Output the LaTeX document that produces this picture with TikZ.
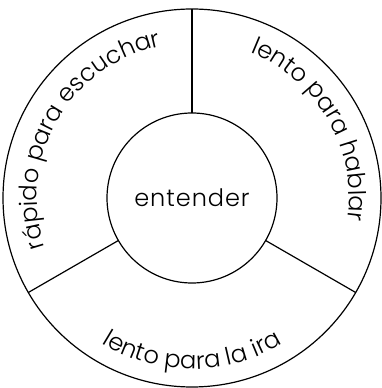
\documentclass[tikz,border=0pt]{standalone}
\usepackage{fontspec}
\setmainfont{Poppins}[UprightFont=* Light]
\usetikzlibrary{decorations.text}
\begin{document}
\begin{tikzpicture}[x=1pt,y=1pt,
  ring/.style={draw=black,line width=1.2pt,circle,inner sep=0pt,outer sep=0pt},
  divider/.style={draw=black,line width=1.2pt},
  arctext/.style={decorate,decoration={text along path,text align=center,
     text={|\fontsize{24.2}{24.2}\selectfont|#1}}}]
\useasboundingbox (0,0) rectangle (382,388);
\coordinate (c) at (192,190);
\node[ring,minimum size=378pt] (outer) at (c) {};
\node[ring,minimum size=170pt,font=\fontsize{24}{24}\selectfont\addfontfeatures{LetterSpace=4}] (ent) at (c) {entender};
\draw[divider] (ent.90) -- (outer.90);
\draw[divider] (ent.210) -- (outer.210);
\draw[divider] (ent.330) -- (outer.330);
\path[arctext={rápido para escuchar}] (c) ++(210:155) arc[start angle=210,end angle=90,radius=155];
\path[arctext={lento para hablar}] (c) ++(90:157) arc[start angle=90,end angle=-30,radius=157];
\path[arctext={lento para la ira}] (c) ++(210:171) arc[start angle=210,end angle=330,radius=171];
\end{tikzpicture}
\end{document}
